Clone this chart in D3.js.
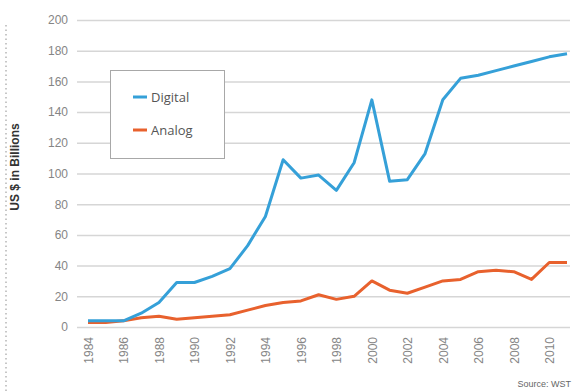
<!DOCTYPE html>
<html lang="en">
<head>
<meta charset="utf-8">
<title>Digital vs Analog</title>
<script src="https://d3js.org/d3.v7.min.js"></script>
<style>
  body { margin: 0; background: #fff; }
  .grid line { stroke: #d6d6d6; stroke-width: 1.5px; }
  .grid text, .xaxis text { fill: #858585; font: 12px "Liberation Sans", Arial, sans-serif; }
  .line { fill: none; stroke-width: 3px; stroke-linejoin: round; }
</style>
</head>
<body>
<svg width="572" height="392"></svg>
<script>
// values, US $ billions
var years = d3.range(1984, 2012);
var digital = [4, 4, 4, 9, 16, 29, 29, 33, 38, 53, 72, 109, 97, 99, 89, 107, 148, 95, 96, 113, 148, 162, 164, 167, 170, 173, 176, 178];
var analog  = [3, 3, 4, 6, 7, 5, 6, 7, 8, 11, 14, 16, 17, 21, 18, 20, 30, 24, 22, 26, 30, 31, 36, 37, 36, 31, 42, 42];
var yTicks = [0, 20, 40, 60, 80, 100, 120, 140, 160, 180, 200];
var xTicks = d3.range(1984, 2011, 2);
var series = [
  {name: "Digital", color: "#35a0d8", values: digital},
  {name: "Analog", color: "#e8612d", values: analog}
];

var svg = d3.select("svg");
var x = d3.scaleLinear().domain([1984, 2011]).range([88, 567]);
var y = d3.scaleLinear().domain([0, 200]).range([327, 20]);

// dotted rule on the far left
svg.append("line")
  .attr("x1", 6).attr("x2", 6).attr("y1", 25).attr("y2", 392)
  .attr("stroke", "#b5b5b5").attr("stroke-width", 1.5)
  .attr("stroke-dasharray", "1.5,3");

// horizontal grid + y labels
var grid = svg.append("g")
  .attr("class", "grid")
  .attr("transform", "translate(77,0)")
  .call(d3.axisLeft(y).tickValues(yTicks).tickSize(-493).tickPadding(9).tickFormat(d3.format("d")));
grid.select(".domain").remove();

// x labels, rotated
var xa = svg.append("g")
  .attr("class", "xaxis")
  .attr("transform", "translate(0,327)")
  .call(d3.axisBottom(x).tickValues(xTicks).tickSize(0).tickFormat(d3.format("d")));
xa.select(".domain").remove();
xa.selectAll("text")
  .attr("transform", "rotate(-90)")
  .attr("text-anchor", "end")
  .attr("x", -10)
  .attr("y", 0)
  .attr("dy", "0.36em");

// axis title
svg.append("text")
  .attr("transform", "translate(19,167) rotate(-90)")
  .attr("text-anchor", "middle")
  .style("font", "bold 12px 'Liberation Sans', Arial, sans-serif")
  .attr("fill", "#333")
  .text("US $ in Billions");

var line = d3.line()
  .x(function(d, i) { return x(years[i]); })
  .y(function(d) { return y(d); });

// analog first so digital sits on top at the start
svg.selectAll(".line")
  .data(series.slice().reverse())
  .enter().append("path")
  .attr("class", "line")
  .attr("stroke", function(d) { return d.color; })
  .attr("d", function(d) { return line(d.values); });

// legend
var lg = svg.append("g");
lg.append("rect")
  .attr("x", 110.5).attr("y", 70.5).attr("width", 114).attr("height", 88)
  .attr("fill", "#fff").attr("stroke", "#a8a8a8");
var item = lg.selectAll(".item")
  .data(series)
  .enter().append("g")
  .attr("transform", function(d, i) { return "translate(0," + (97 + i * 33) + ")"; });
item.append("line")
  .attr("x1", 133).attr("x2", 147)
  .attr("stroke", function(d) { return d.color; })
  .attr("stroke-width", 3);
item.append("text")
  .attr("x", 151).attr("dy", "0.35em")
  .style("font", "13px 'Open Sans', sans-serif")
  .attr("fill", "#555")
  .text(function(d) { return d.name; });

svg.append("text")
  .attr("x", 571).attr("y", 387)
  .attr("text-anchor", "end")
  .style("font", "9px 'Liberation Sans', Arial, sans-serif")
  .attr("fill", "#666")
  .text("Source: WST");
</script>
</body>
</html>
